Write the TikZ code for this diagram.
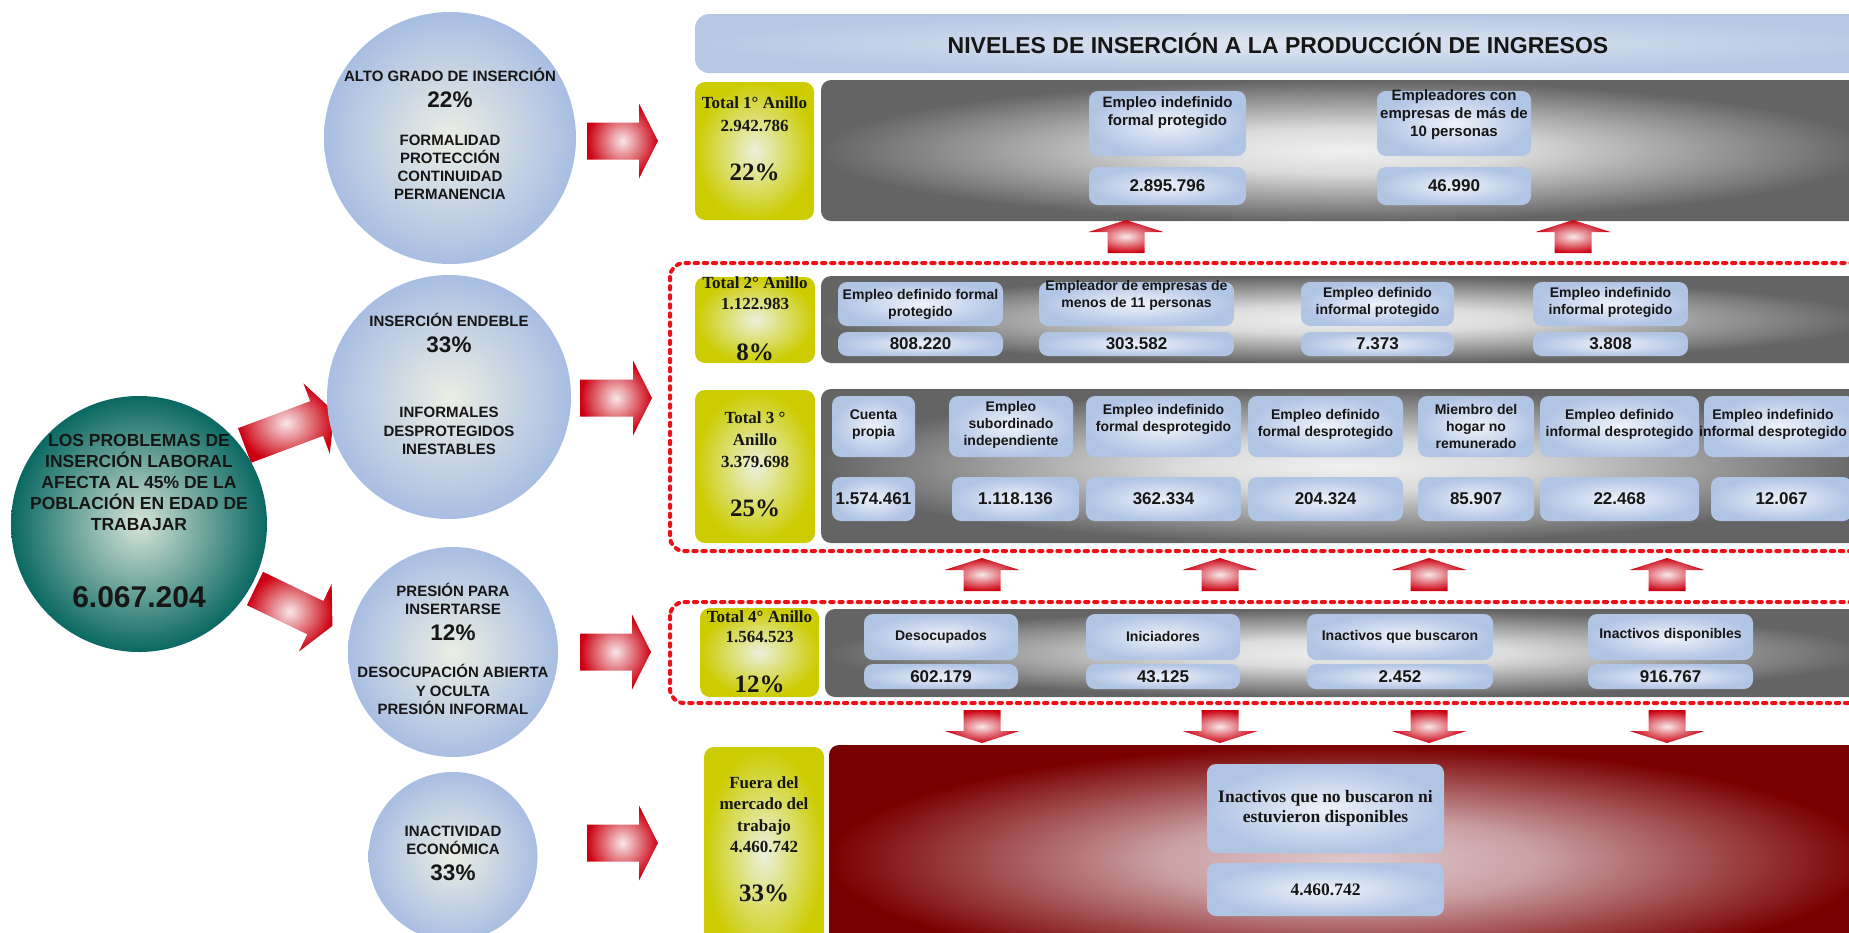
\documentclass[tikz,border=0pt]{standalone}
\usepackage{fontspec}
\setmainfont{Liberation Serif}
\setsansfont{Liberation Sans}

\definecolor{txt}{RGB}{22,22,22}
\definecolor{bluecen}{RGB}{238,242,250}
\definecolor{bluedge}{RGB}{176,196,228}
\definecolor{circcen}{RGB}{236,238,228}
\definecolor{circedge}{RGB}{168,190,226}
\definecolor{tealcen}{RGB}{214,228,216}
\definecolor{tealedge}{RGB}{10,104,98}
\definecolor{ycen}{RGB}{236,240,222}
\definecolor{yedge}{RGB}{204,204,0}
\definecolor{gcen}{RGB}{240,240,240}
\definecolor{gedge}{RGB}{100,100,100}
\definecolor{rcen}{RGB}{248,232,232}
\definecolor{redge}{RGB}{204,0,16}
\definecolor{dred}{RGB}{122,0,0}
\definecolor{lred}{RGB}{222,200,205}
\definecolor{tcen}{RGB}{224,231,242}
\definecolor{tedge}{RGB}{182,200,228}
\definecolor{dashred}{RGB}{238,16,24}

\pgfdeclareradialshading{panelglow}{\pgfpoint{0bp}{0bp}}{color(0bp)=(gcen); color(8bp)=(gcen!85!gedge); color(25bp)=(gedge); color(50bp)=(gedge)}
\pgfdeclareradialshading{redglow}{\pgfpoint{0bp}{0bp}}{color(0bp)=(lred); color(9bp)=(lred!80!dred); color(25bp)=(dred); color(50bp)=(dred)}

\newcommand\pctfont{\fontsize{22.5}{22.5}\selectfont}
\newcommand\ypct{\fontsize{25}{25}\selectfont}

\tikzset{
  bluebox/.style={rectangle, rounded corners=9pt, inner color=bluecen, outer color=bluedge, inner sep=0pt},
  lbltext/.style={align=center, inner sep=0pt, text=txt, font=\sffamily\bfseries\fontsize{14}{17}\selectfont},
  valtext/.style={lbltext, font=\sffamily\bfseries\fontsize{17}{20}\selectfont},
  ybox/.style={rectangle, rounded corners=10pt, inner color=ycen, outer color=yedge, inner sep=0pt},
  ytext/.style={align=center, inner sep=0pt, text=txt, font=\rmfamily\bfseries\fontsize{17}{22}\selectfont},
  panel/.style={rectangle, rounded corners=10pt, shade, shading=panelglow, inner sep=0pt},
  bubble/.style={circle, inner color=circcen, outer color=circedge, inner sep=0pt},
  ctext/.style={align=center, inner sep=0pt, text=txt, font=\sffamily\bfseries\fontsize{15}{18}\selectfont},
  ringline/.style={draw=dashred, line width=4pt, dash pattern=on 3.4pt off 5.7pt, line cap=round, rounded corners=14pt},
  arrowshade/.style={inner color=rcen, outer color=redge},
  bigarr/.pic={\shade[arrowshade] (0,-18.5) -- (#1,-18.5) -- (#1,-37.5) -- (#1+19,0) -- (#1,37.5) -- (#1,18.5) -- (0,18.5) -- cycle;},
  smallarr/.pic={\shade[arrowshade] (0,-18.5) -- (21,-18.5) -- (21,-37.5) -- (33,0) -- (21,37.5) -- (21,18.5) -- (0,18.5) -- cycle;}
}

\begin{document}
\begin{tikzpicture}[x=1pt,y=-1pt]
  \useasboundingbox (0,0) rectangle (1849,932);
  \clip (0,0) rectangle (1849,932);

  % title bar
  \node[rectangle, rounded corners=14pt, inner color=tcen, outer color=tedge, minimum width=1205, minimum height=59] (titulo) at (1297.5,43.5) {};
  \node[inner sep=0pt, text=txt, font=\sffamily\bfseries\fontsize{23}{28}\selectfont] (titulotxt) at (1278,43) {NIVELES DE INSERCIÓN A LA PRODUCCIÓN DE INGRESOS};

  % ring panels
  \node[panel, minimum width=1049, minimum height=141] (anillo1) at (1345.5,150.5) {};
  \node[panel, minimum width=1049, minimum height=87] (anillo2) at (1345.5,319.5) {};
  \node[panel, minimum width=1049, minimum height=154] (anillo3) at (1345.5,466) {};
  \node[panel, minimum width=1045, minimum height=88] (anillo4) at (1347.5,653) {};
  \node[rectangle, rounded corners=10pt, shade, shading=redglow, minimum width=1041, minimum height=230] (fueramerc) at (1349.5,860) {};

  % dashed rings
  \draw[ringline] (670,263) rectangle (1900,551);
  \draw[ringline] (670,602) rectangle (1900,703);

  % yellow totals
  \node[ybox, minimum width=119, minimum height=138] (tot1) at (754.5,151) {};
  \node[ytext] (tot1txt) at (754.5,138.8) {Total 1° Anillo\\[1.1pt]2.942.786\\[26.7pt]{\ypct 22\%}};
  \node[ybox, minimum width=120, minimum height=86] (tot2) at (755,320) {};
  \node[ytext] (tot2txt) at (755,318.8) {Total 2° Anillo\\[-0.9pt]1.122.983\\[28.7pt]{\ypct 8\%}};
  \node[ybox, minimum width=120, minimum height=153] (tot3) at (755,466.5) {};
  \node[ytext] (tot3txt) at (755,464.3) {Total 3 °\\Anillo\\3.379.698\\[26.7pt]{\ypct 25\%}};
  \node[ybox, minimum width=119, minimum height=89] (tot4) at (759.5,652.5) {};
  \node[ytext] (tot4txt) at (759.5,651.8) {Total 4° Anillo\\[-1.9pt]1.564.523\\[27.7pt]{\ypct 12\%}};
  \node[ybox, minimum width=120, minimum height=213] (tot5) at (764,853.5) {};
  \node[ytext] (tot5txt) at (764,839.3) {Fuera del\\[-1pt]mercado del\\trabajo\\[-0.9pt]4.460.742\\[26.7pt]{\ypct 33\%}};

  % ring 1 boxes
  \foreach \xa/\xb/\dy/\lab/\val [count=\i] in {1089/1246/10.5/{Empleo indefinido\\formal protegido}/2.895.796, 1377/1531/8.5/{Empleadores con\\empresas de más de\\10 personas}/46.990}
  {
    \node[bluebox, minimum width=\xb-\xa, minimum height=65] (a1l\i) at ({(\xa+\xb)/2},123.5) {};
    \node[lbltext, font=\sffamily\bfseries\fontsize{15}{18}\selectfont, yshift=\dy] (a1t\i) at (a1l\i) {\lab};
    \node[bluebox, valtext, minimum width=\xb-\xa, minimum height=38] (a1v\i) at ({(\xa+\xb)/2},186) {\val};
  }

  % ring 2 boxes
  \foreach \xa/\xb/\dy/\lab/\val [count=\i] in {838/1003/0/{Empleo definido formal\\protegido}/808.220, 1039/1234/8.5/{Empleador de empresas de\\menos de 11 personas}/303.582, 1301/1454/1.5/{Empleo definido\\informal protegido}/7.373, 1533/1688/2/{Empleo indefinido\\informal protegido}/3.808}
  {
    \node[bluebox, minimum width=\xb-\xa, minimum height=44] (a2l\i) at ({(\xa+\xb)/2},304) {};
    \node[lbltext, yshift=\dy] (a2t\i) at (a2l\i) {\lab};
    \node[bluebox, valtext, minimum width=\xb-\xa, minimum height=24] (a2v\i) at ({(\xa+\xb)/2},344) {\val};
  }

  % ring 3 boxes
  \foreach \xa/\xb/\va/\vb/\dx/\dy/\lab/\val [count=\i] in {832/915/832/915/0/2/{Cuenta\\propia}/1.574.461, 949/1073/952/1079/0/1.5/{Empleo\\subordinado\\independiente}/1.118.136, 1086/1241/1086/1241/0/7.5/{Empleo indefinido\\formal desprotegido}/362.334, 1248/1403/1248/1403/0/2/{Empleo definido\\formal desprotegido}/204.324, 1418/1534/1418/1534/0/0/{Miembro del\\hogar no\\remunerado}/85.907, 1540/1699/1540/1699/0/2/{Empleo definido\\informal desprotegido}/22.468, 1704/1856/1711/1852/-7/2/{Empleo indefinido\\informal desprotegido}/12.067}
  {
    \node[bluebox, minimum width=\xb-\xa, minimum height=61] (a3l\i) at ({(\xa+\xb)/2},426.5) {};
    \node[lbltext, xshift=\dx, yshift=\dy] (a3t\i) at (a3l\i) {\lab};
    \node[bluebox, valtext, minimum width=\vb-\va, minimum height=44] (a3v\i) at ({(\va+\vb)/2},499) {\val};
  }

  % ring 4 boxes
  \foreach \xa/\xb/\dy/\lab/\val [count=\i] in {864/1018/0/{Desocupados}/602.179, 1086/1240/1/{Iniciadores}/43.125, 1307/1493/0/{Inactivos que buscaron}/2.452, 1588/1753/2/{Inactivos disponibles}/916.767}
  {
    \node[bluebox, minimum width=\xb-\xa, minimum height=46] (a4l\i) at ({(\xa+\xb)/2},637) {};
    \node[lbltext, yshift=\dy] (a4t\i) at (a4l\i) {\lab};
    \node[bluebox, valtext, minimum width=\xb-\xa, minimum height=25] (a4v\i) at ({(\xa+\xb)/2},676.5) {\val};
  }

  % outside the labour market
  \node[bluebox, ytext, font=\rmfamily\bfseries\fontsize{17.5}{20}\selectfont, minimum width=237, minimum height=89] (fuera) at (1325.5,808.5) {Inactivos que no buscaron ni\\estuvieron disponibles};
  \node[bluebox, ytext, font=\rmfamily\bfseries\fontsize{17.5}{20}\selectfont, minimum width=237, minimum height=53] (fueraval) at (1325.5,889.5) {4.460.742};

  % block arrows
  \pic at (587,141) {bigarr=52};
  \pic at (580,398) {bigarr=53};
  \pic at (580,652) {bigarr=52};
  \pic at (587,843) {bigarr=52};
  \pic[rotate=20.5] at (244.5,445.5) {bigarr=77};
  \pic[rotate=-25.8] at (255,588.5) {bigarr=67};
  \foreach \x in {1126,1573}
    \pic[rotate=90] at (\x,253) {smallarr};
  \foreach \x in {982,1220,1429,1667}
  {
    \pic[rotate=90] at (\x,591) {smallarr};
    \pic[rotate=-90] at (\x,710) {smallarr};
  }

  % circles
  \node[bubble, minimum size=252] (alto) at (450,138) {};
  \node[ctext] (altotxt) at (450,134.4) {ALTO GRADO DE INSERCIÓN\\[7.6pt]{\pctfont 22\%}\\[20.4pt]FORMALIDAD\\PROTECCIÓN\\CONTINUIDAD\\PERMANENCIA};
  \node[bubble, minimum size=244] (endeble) at (449,397) {};
  \node[ctext] (endebletxt) at (449,384.4) {INSERCIÓN ENDEBLE\\[7.6pt]{\pctfont 33\%}\\[47.4pt]INFORMALES\\[1pt]DESPROTEGIDOS\\INESTABLES};
  \node[bubble, minimum size=210] (presion) at (453,652) {};
  \node[ctext] (presiontxt) at (453,649.4) {PRESIÓN PARA\\INSERTARSE\\[7.6pt]{\pctfont 12\%}\\[19.4pt]DESOCUPACIÓN ABIERTA\\[1pt]Y OCULTA\\PRESIÓN INFORMAL};
  \node[bubble, minimum size=169] (inact) at (453,856.5) {};
  \node[ctext] (inacttxt) at (453,853.4) {INACTIVIDAD\\ECONÓMICA\\[8.6pt]{\pctfont 33\%}};

  % population circle
  \node[circle, minimum size=256, inner sep=0pt, inner color=tealcen, outer color=tealedge] (pobl) at (139,524) {};
  \node[ctext, font=\sffamily\bfseries\fontsize{17.5}{21}\selectfont] (pobltxt) at (139,521.2) {LOS PROBLEMAS DE\\INSERCIÓN LABORAL\\AFECTA AL 45\% DE LA\\POBLACIÓN EN EDAD DE\\TRABAJAR\\[54.4pt]{\fontsize{30}{30}\selectfont 6.067.204}};
\end{tikzpicture}
\end{document}
